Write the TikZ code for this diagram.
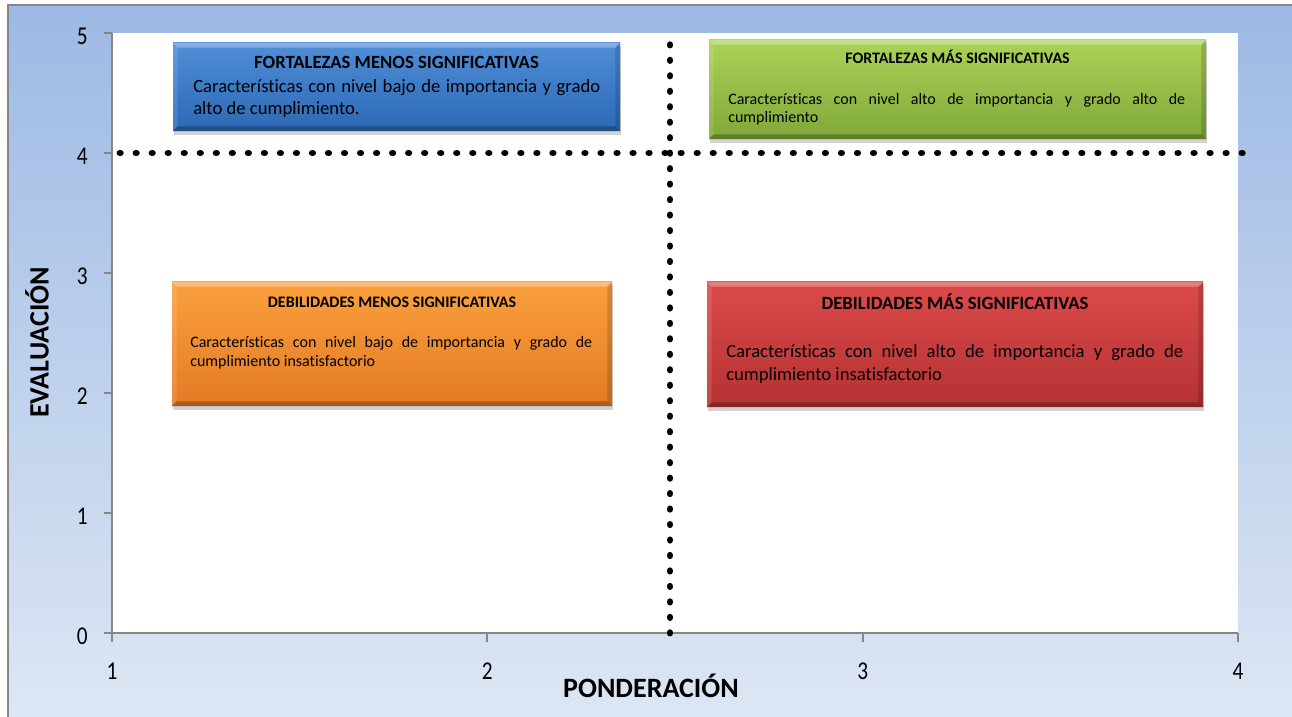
\documentclass[tikz,border=0pt]{standalone}
\usepackage{fontspec}
\setmainfont{Carlito}[Ligatures=NoCommon]
\usepackage{tkz-euclide}
\usetikzlibrary{shadows}
\definecolor{fondoA}{RGB}{157,185,228}
\definecolor{fondoB}{RGB}{222,231,244}
\definecolor{gris}{RGB}{134,134,134}
\definecolor{azulA}{RGB}{80,142,216}
\definecolor{azulB}{RGB}{44,104,180}
\definecolor{verdeA}{RGB}{172,210,88}
\definecolor{verdeB}{RGB}{128,168,56}
\definecolor{naranjaA}{RGB}{250,160,62}
\definecolor{naranjaB}{RGB}{228,122,36}
\definecolor{rojoA}{RGB}{220,74,74}
\definecolor{rojoB}{RGB}{180,50,50}
% 斜角效果
\newcommand{\bisel}[1]{%
  \fill[white,opacity=.3] (#1.north west) -- (#1.north east)
    -- ([shift={(-5,-5)}]#1.north east) -- ([shift={(5,-5)}]#1.north west) -- cycle;
  \fill[white,opacity=.12] (#1.north west) -- ([shift={(5,-5)}]#1.north west)
    -- ([shift={(5,5)}]#1.south west) -- (#1.south west) -- cycle;
  \fill[black,opacity=.15] (#1.north east) -- ([shift={(-5,-5)}]#1.north east)
    -- ([shift={(-5,5)}]#1.south east) -- (#1.south east) -- cycle;
  \fill[black,opacity=.25] (#1.south west) -- ([shift={(5,5)}]#1.south west)
    -- ([shift={(-5,5)}]#1.south east) -- (#1.south east) -- cycle;}
\newcommand{\estira}[1]{\scalebox{1}[1.2]{#1}}

\begin{document}
\begin{tikzpicture}[
        x=0.75pt, y=0.75pt,
        eje/.style={draw=gris, line width=1.5pt},
        etiq/.style={font=\fontsize{16}{18}\selectfont, inner sep=0pt},
        caja/.style n args={3}{rectangle, inner sep=0pt,
          minimum width=#1*0.75pt, minimum height=#2*0.75pt,
          top color=#3A, bottom color=#3B,
          drop shadow={shadow xshift=1pt, shadow yshift=-3pt, opacity=.35}},
        titulo/.style={font=\bfseries\fontsize{#1}{#1}\selectfont, anchor=base, inner sep=0pt},
        cuerpo/.style 2 args={font=\fontsize{#1}{#2}\selectfont, anchor=north west,
          inner sep=0pt, align=justify},
        puntos/.style={line width=5.2pt, line cap=round, dash pattern=on 0.2pt off #1}]
        % 初始化
        \useasboundingbox (0,0) rectangle (1292,717);
        \clip (0,0) rectangle (1292,717);
        % 背景
        \draw[gris, line width=1.5pt, top color=fondoA, bottom color=fondoB] (8,-10) rectangle (1310,712);
        % 定义坐标点
        \tkzDefPoints{112/84/O, 1238/84/X, 112/684/Y, 1238/684/Z}
        % 绘图区
        \fill[white] (O) rectangle (Z);
        % 坐标轴
        \draw[eje] (Y) -- (O) -- (X);
        \foreach \k in {0,...,5} {
          \draw[eje] (104,84+120*\k) -- (112,84+120*\k);
          \node[etiq, anchor=east] (ey\k) at (88,81+120*\k) {\estira{\k}};
        }
        \foreach \k in {1,...,4} {
          \draw[eje] ({112+375.33*(\k-1)},84) -- ({112+375.33*(\k-1)},75);
          \node[etiq] (ex\k) at ({112+375.33*(\k-1)},46) {\estira{\k}};
        }
        \node[rotate=90, font=\bfseries\fontsize{21}{21}\selectfont] (EV) at (37,374.5) {EVALUACIÓN};
        \node[font=\bfseries\fontsize{21}{21}\selectfont] (PO) at (651,31) {PONDERACIÓN};
        % 四个象限框
        \node[caja={447}{88}{azul}] (FM) at (396.5,630) {};
        \node[caja={497}{99}{verde}] (FS) at (957.5,627.5) {};
        \node[caja={440}{124}{naranja}] (DM) at (392,373) {};
        \node[caja={496}{125}{rojo}] (DS) at (955,372.5) {};
        \bisel{FM} \bisel{FS} \bisel{DM} \bisel{DS}
        % 文字
        \node[titulo=14] (FMt) at (396.5,648) {FORTALEZAS MENOS SIGNIFICATIVAS};
        \node[cuerpo={14}{16.5}, text width=305.25pt] (FMc) at (193,640.4)
          {\strut Características con nivel bajo de importancia y grado\linebreak alto de cumplimiento.};
        \node[titulo=12] (FSt) at (957.5,653) {FORTALEZAS MÁS SIGNIFICATIVAS};
        \node[cuerpo={12}{13.5}, text width=342.75pt] (FSc) at (728,625.6)
          {\strut Características con nivel alto de importancia y grado alto de\linebreak cumplimiento};
        \node[titulo=12] (DMt) at (392,409) {DEBILIDADES MENOS SIGNIFICATIVAS};
        \node[cuerpo={12}{14.25}, text width=301.5pt] (DMc) at (190,383.3)
          {\strut Características con nivel bajo de importancia y grado de\linebreak cumplimiento insatisfactorio};
        \node[titulo=14] (DSt) at (955,407) {DEBILIDADES MÁS SIGNIFICATIVAS};
        \node[cuerpo={14}{17.25}, text width=342.75pt] (DSc) at (726,376.1)
          {\strut Características con nivel alto de importancia y grado de\linebreak cumplimiento insatisfactorio};
        % 虚线
        \tkzDefPoints{120/564/A, 1242.5/564/B, 670/84/C, 670/672.4/D}
        \draw[puntos=11.8214pt] (A) -- (B);
        \draw[puntos=11.405pt] (C) -- (D);
      \end{tikzpicture}
\end{document}
